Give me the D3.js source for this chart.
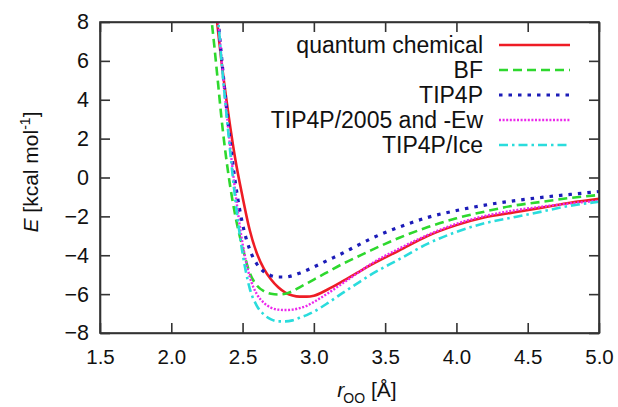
<!DOCTYPE html>
<html>
<head>
<meta charset="utf-8">
<script src="https://cdn.jsdelivr.net/npm/d3@7"></script>
<style>
    body { margin: 0; background: #fff; }
    text { font-family: "Liberation Sans", Arial, Helvetica, sans-serif; fill: #111; }
</style>
</head>
<body>
<div id="chart"></div>
<script>
// Separation r_OO in Angstrom, shared by every curve.
const rValues = [2.26, 2.28, 2.30, 2.33, 2.35, 2.40, 2.45, 2.50, 2.55, 2.60, 2.65, 2.70, 2.75, 2.80, 2.85,
    2.90, 2.95, 3.00, 3.10, 3.20, 3.30, 3.40, 3.60, 3.80, 4.00, 4.20, 4.40, 4.60, 4.80, 5.00];

// Energies in kcal/mol.
const quantumChemical = [12.5, 11.0, 9.5, 7.4, 6.1, 3.3, 0.9, -1.0, -2.7, -3.9, -4.7, -5.25, -5.65, -5.92, -6.07,
    -6.13, -6.13, -6.08, -5.75, -5.35, -4.92, -4.5, -3.75, -3.0, -2.45, -2.05, -1.8, -1.55, -1.3, -1.1];
const bf = [10.0, 8.3, 6.9, 4.7, 3.2, 0.2, -2.0, -3.6, -4.9, -5.55, -5.85, -5.98, -6.02, -5.98, -5.85,
    -5.65, -5.45, -5.25, -4.85, -4.45, -4.1, -3.75, -3.1, -2.55, -2.1, -1.75, -1.45, -1.25, -1.05, -0.9];
const tip4p = [13.0, 11.8, 10.5, 8.0, 6.4, 2.7, -0.3, -2.4, -3.7, -4.45, -4.85, -5.05, -5.12, -5.12, -5.05,
    -4.92, -4.77, -4.6, -4.25, -3.9, -3.52, -3.15, -2.55, -2.05, -1.7, -1.42, -1.2, -1.02, -0.87, -0.72];
const tip4p2005 = [12.8, 11.6, 10.3, 8.0, 6.3, 2.5, -0.8, -3.4, -5.1, -6.0, -6.45, -6.7, -6.8, -6.82, -6.8,
    -6.72, -6.6, -6.4, -5.95, -5.45, -4.95, -4.45, -3.65, -2.95, -2.38, -1.98, -1.7, -1.5, -1.33, -1.2];
const tip4pIce = [12.5, 11.3, 10.0, 8.0, 6.2, 2.3, -1.2, -3.9, -5.7, -6.6, -7.05, -7.3, -7.4, -7.4, -7.35,
    -7.22, -7.08, -6.9, -6.45, -5.95, -5.47, -5.0, -4.2, -3.4, -2.8, -2.35, -2.05, -1.75, -1.45, -1.25];

const seriesNames = ["quantum chemical", "BF", "TIP4P", "TIP4P/2005 and -Ew", "TIP4P/Ice"];
const xTicks = [1.5, 2.0, 2.5, 3.0, 3.5, 4.0, 4.5, 5.0];
const yTicks = [-8, -6, -4, -2, 0, 2, 4, 6, 8];

// Styles for each series, in the same order as seriesNames.
const seriesStyles = [
    { color: "#ee1c25", width: 2.6, dash: null },
    { color: "#2ed82e", width: 2.6, dash: "9,5" },
    { color: "#1c1cb8", width: 3.2, dash: "3.5,6" },
    { color: "#ec28ec", width: 2.4, dash: "2,1.6" },
    { color: "#2adcdc", width: 2.6, dash: "9,4,2.5,4" }
];

const series = [quantumChemical, bf, tip4p, tip4p2005, tip4pIce].map((values, i) => ({
    name: seriesNames[i],
    style: seriesStyles[i],
    points: values.map((e, j) => [rValues[j], e])
}));

const width = 618;
const height = 407;
const marginTop = 22;
const marginRight = 19;
const marginBottom = 74;
const marginLeft = 100;

const x = d3.scaleLinear().domain([1.5, 5.0]).range([marginLeft, width - marginRight]);
const y = d3.scaleLinear().domain([-8, 8]).range([height - marginBottom, marginTop]);

const svg = d3.create("svg")
    .attr("width", width)
    .attr("height", height)
    .attr("viewBox", [0, 0, width, height]);

svg.append("clipPath")
    .attr("id", "plot-clip")
  .append("rect")
    .attr("x", marginLeft)
    .attr("y", marginTop)
    .attr("width", width - marginLeft - marginRight)
    .attr("height", height - marginTop - marginBottom);

// Curves.
const line = d3.line()
    .x(d => x(d[0]))
    .y(d => y(d[1]))
    .curve(d3.curveMonotoneX);

svg.append("g")
    .attr("clip-path", "url(#plot-clip)")
  .selectAll("path")
  .data(series)
  .join("path")
    .attr("fill", "none")
    .attr("stroke", d => d.style.color)
    .attr("stroke-width", d => d.style.width)
    .attr("stroke-dasharray", d => d.style.dash)
    .attr("d", d => line(d.points));

// Axes: ticks point inward on all four sides, labels on bottom and left.
const tickSize = 10;
const axisColor = "#333";

svg.append("g")
    .attr("transform", `translate(0,${height - marginBottom})`)
    .call(d3.axisBottom(x).tickValues(xTicks).tickFormat(d3.format(".1f")).tickSizeInner(-tickSize).tickSizeOuter(0).tickPadding(16))
    .call(g => g.selectAll("text").attr("font-size", 20.5).attr("font-family", null));

svg.append("g")
    .attr("transform", `translate(0,${marginTop})`)
    .call(d3.axisTop(x).tickValues(xTicks).tickSizeInner(-tickSize).tickSizeOuter(0).tickFormat(""));

svg.append("g")
    .attr("transform", `translate(${marginLeft},0)`)
    .call(d3.axisLeft(y).tickValues(yTicks).tickSizeInner(-tickSize).tickSizeOuter(0).tickPadding(11))
    .call(g => g.selectAll("text").attr("font-size", 21.5).attr("font-family", null));

svg.append("g")
    .attr("transform", `translate(${width - marginRight},0)`)
    .call(d3.axisRight(y).tickValues(yTicks).tickSizeInner(-tickSize).tickSizeOuter(0).tickFormat(""));

svg.selectAll(".domain, .tick line")
    .attr("stroke", axisColor)
    .attr("stroke-width", 1.6);

// Frame.
svg.append("rect")
    .attr("x", marginLeft)
    .attr("y", marginTop)
    .attr("width", width - marginLeft - marginRight)
    .attr("height", height - marginTop - marginBottom)
    .attr("fill", "none")
    .attr("stroke", axisColor)
    .attr("stroke-width", 1.6);

// Axis titles.
const xTitle = svg.append("text")
    .attr("x", 367)
    .attr("y", 397)
    .attr("text-anchor", "middle")
    .attr("font-size", 21);
xTitle.append("tspan").attr("font-style", "italic").text("r");
xTitle.append("tspan").attr("font-size", 14).attr("dy", 6).attr("dx", -1).text("OO");
xTitle.append("tspan").attr("dy", -6).text(" [Å]");

const yTitle = svg.append("text")
    .attr("transform", `translate(38,172) rotate(-90)`)
    .attr("text-anchor", "middle")
    .attr("font-size", 21);
yTitle.append("tspan").attr("font-style", "italic").text("E");
yTitle.append("tspan").text(" [kcal mol");
yTitle.append("tspan").attr("font-size", 14).attr("dy", -8).text("-1");
yTitle.append("tspan").attr("dy", 8).text("]");

// Legend, top right inside the frame.
const legend = svg.append("g")
  .selectAll("g")
  .data(series)
  .join("g")
    .attr("transform", (d, i) => `translate(0,${45 + i * 25})`);

legend.append("text")
    .attr("x", 483)
    .attr("dy", "0.35em")
    .attr("text-anchor", "end")
    .attr("font-size", 23)
    .text(d => d.name);

legend.append("line")
    .attr("x1", 499)
    .attr("x2", 570)
    .attr("stroke", d => d.style.color)
    .attr("stroke-width", d => d.style.width)
    .attr("stroke-dasharray", d => d.style.dash);

document.getElementById("chart").appendChild(svg.node());
</script>
</body>
</html>
